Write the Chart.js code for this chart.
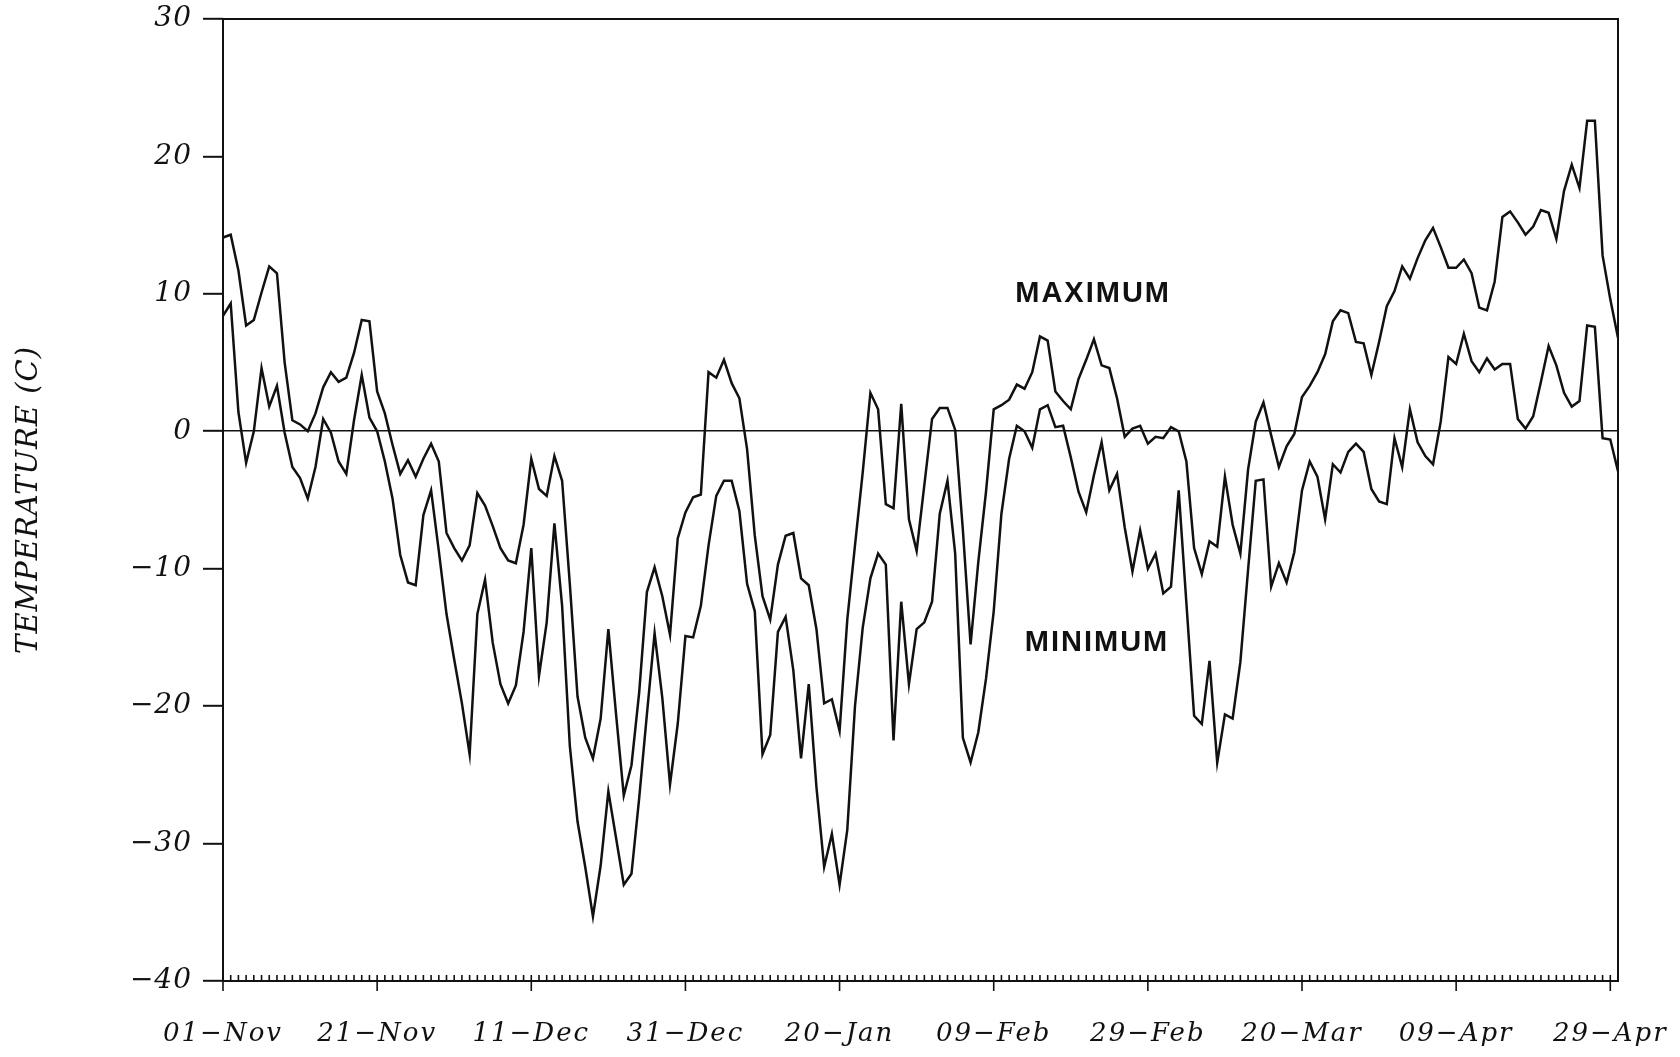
<!DOCTYPE html>
<html>
<head>
<meta charset="utf-8">
<script src="https://cdn.jsdelivr.net/npm/chart.js@4/dist/chart.umd.min.js"></script>
<style>
  html, body { margin: 0; padding: 0; background: #fff; }
  canvas { display: block; }
</style>
</head>
<body>
<canvas id="chart" width="1680" height="1057"></canvas>
<script>
// daily categories, 01-Nov .. 30-Apr (leap year)
const months = [['Nov', 30], ['Dec', 31], ['Jan', 31], ['Feb', 29], ['Mar', 31], ['Apr', 30]];
const dayLabels = [];
months.forEach(([m, n]) => {
    for (let d = 1; d <= n; d++) dayLabels.push(String(d).padStart(2, '0') + '\u2212' + m);
});

const xTickLabels = ['01\u2212Nov', '21\u2212Nov', '11\u2212Dec', '31\u2212Dec', '20\u2212Jan',
    '09\u2212Feb', '29\u2212Feb', '20\u2212Mar', '09\u2212Apr', '29\u2212Apr'];

const maxTemp = [
    14.1, 14.3, 11.7, 7.7, 8.1, 10.1, 12.0, 11.5, 5.0, 0.8,
    0.5, 0.0, 1.3, 3.2, 4.3, 3.6, 3.9, 5.7, 8.1, 8.0,
    2.9, 1.3, -1.0, -3.1, -2.1, -3.3, -2.0, -0.9, -2.2, -7.4,
    -8.5, -9.4, -8.3, -4.5, -5.4, -6.9, -8.5, -9.4, -9.6, -6.8,
    -2.0, -4.2, -4.7, -1.8, -3.6, -11.1, -19.3, -22.3, -23.8, -20.9,
    -14.4, -20.6, -26.5, -24.3, -19.0, -11.7, -9.9, -12.0, -14.8, -7.8,
    -5.9, -4.8, -4.6, 4.3, 3.9, 5.2, 3.5, 2.4, -1.3, -7.6,
    -12.0, -13.7, -9.7, -7.6, -7.4, -10.7, -11.2, -14.4, -19.8, -19.5,
    -21.8, -13.7, -8.3, -3.0, 2.8, 1.6, -5.3, -5.6, 2.0, -6.4,
    -8.7, -3.9, 0.9, 1.7, 1.7, 0.1, -7.2, -15.5, -9.5, -4.4,
    1.6, 1.9, 2.3, 3.4, 3.1, 4.3, 6.9, 6.6, 2.9, 2.2,
    1.6, 3.8, 5.2, 6.7, 4.8, 4.6, 2.4, -0.4, 0.2, 0.4,
    -0.9, -0.4, -0.5, 0.3, 0.0, -2.2, -8.5, -10.4, -8.0, -8.4,
    -3.3, -6.8, -8.9, -2.8, 0.7, 2.1, -0.3, -2.6, -1.1, -0.2,
    2.5, 3.3, 4.3, 5.6, 8.0, 8.8, 8.6, 6.5, 6.4, 4.1,
    6.5, 9.1, 10.2, 12.0, 11.1, 12.6, 13.9, 14.8, 13.4, 11.9,
    11.9, 12.5, 11.5, 9.0, 8.8, 10.9, 15.6, 16.0, 15.2, 14.3,
    14.9, 16.1, 15.9, 14.0, 17.5, 19.4, 17.7, 22.6, 22.6, 12.8,
    9.6, 6.8
];

const minTemp = [
    8.4, 9.3, 1.4, -2.3, 0.0, 4.6, 1.8, 3.3, -0.1, -2.6,
    -3.4, -4.9, -2.6, 0.9, -0.1, -2.2, -3.1, 0.8, 4.1, 1.0,
    0.0, -2.2, -4.9, -9.0, -11.0, -11.2, -6.1, -4.3, -8.7, -13.3,
    -16.6, -19.8, -23.5, -13.3, -10.8, -15.4, -18.4, -19.8, -18.5, -14.6,
    -8.5, -17.8, -13.9, -6.7, -12.7, -22.9, -28.4, -31.7, -35.3, -31.6,
    -26.2, -29.6, -33.0, -32.2, -26.7, -20.6, -14.7, -19.4, -25.7, -21.3,
    -14.9, -15.0, -12.7, -8.3, -4.7, -3.6, -3.6, -5.8, -11.1, -13.1,
    -23.5, -22.1, -14.6, -13.5, -17.4, -23.8, -18.4, -25.9, -31.7, -29.3,
    -33.0, -29.0, -20.0, -14.3, -10.7, -8.9, -9.7, -22.5, -12.4, -18.4,
    -14.4, -13.9, -12.4, -6.0, -3.6, -8.9, -22.3, -24.1, -21.9, -18.0,
    -13.1, -6.0, -2.0, 0.4, 0.0, -1.2, 1.6, 1.9, 0.3, 0.4,
    -1.9, -4.4, -5.9, -3.2, -0.8, -4.3, -3.1, -7.0, -10.2, -7.2,
    -10.0, -8.9, -11.8, -11.3, -4.3, -12.5, -20.7, -21.3, -16.7, -24.1,
    -20.6, -20.9, -16.8, -10.1, -3.6, -3.5, -11.3, -9.6, -11.0, -8.8,
    -4.3, -2.2, -3.3, -6.4, -2.4, -3.0, -1.5, -0.9, -1.5, -4.2,
    -5.1, -5.3, -0.5, -2.6, 1.6, -0.8, -1.8, -2.4, 0.7, 5.4,
    4.9, 7.1, 5.1, 4.3, 5.3, 4.5, 4.9, 4.9, 0.9, 0.2,
    1.1, 3.6, 6.2, 4.8, 2.8, 1.8, 2.2, 7.7, 7.6, -0.5,
    -0.6, -2.9
];

const serifFont = size => ({ family: '"DejaVu Serif", serif', style: 'italic', size: size });

// y labels/title draw before the datasets, x labels (ticks.z 1) after them,
// so each gets its own letter spacing
const decor = {
    id: 'decor',
    beforeDraw(chart) {
        chart.ctx.letterSpacing = '1px';
    },
    afterDatasetsDraw(chart) {
        chart.ctx.letterSpacing = '2px';
    },
    afterDraw(chart) {
        const { ctx, chartArea: a, scales: { x, y } } = chart;
        ctx.save();
        ctx.strokeStyle = '#111';
        ctx.lineWidth = 2;
        ctx.strokeRect(a.left, a.top, a.right - a.left, a.bottom - a.top);

        ctx.lineWidth = 1.6;
        for (let i = 0; i < dayLabels.length; i++) {
            const px = x.getPixelForValue(i);
            ctx.beginPath();
            if (i % 20 === 0) {
                ctx.moveTo(px, a.bottom - 6);
                ctx.lineTo(px, a.bottom + 10);
            } else {
                ctx.moveTo(px, a.bottom);
                ctx.lineTo(px, a.bottom - 6);
            }
            ctx.stroke();
        }

        ctx.letterSpacing = '2px';
        ctx.fillStyle = '#111';
        ctx.font = 'bold 29px "Liberation Sans", Arial, sans-serif';
        ctx.textAlign = 'center';
        ctx.textBaseline = 'middle';
        ctx.fillText('MAXIMUM', x.getPixelForValue(112.9), y.getPixelForValue(10.0));
        ctx.fillText('MINIMUM', x.getPixelForValue(113.4), y.getPixelForValue(-15.4));
        ctx.restore();
        ctx.letterSpacing = '0px';
    }
};

new Chart(document.getElementById('chart'), {
    type: 'line',
    data: {
        labels: dayLabels,
        datasets: [
            { label: 'Maximum', data: maxTemp, borderColor: '#111', borderWidth: 2.5, pointRadius: 0, tension: 0 },
            { label: 'Minimum', data: minTemp, borderColor: '#111', borderWidth: 2.5, pointRadius: 0, tension: 0 }
        ]
    },
    options: {
        responsive: false,
        animation: false,
        devicePixelRatio: 1,
        layout: { padding: { top: 19, right: 62, bottom: 0, left: 0 } },
        plugins: { legend: { display: false }, tooltip: { enabled: false } },
        scales: {
            x: {
                type: 'category',
                offset: false,
                afterFit: s => { s.height = 76; s.paddingLeft = 0; s.paddingRight = 0; },
                grid: { display: false, drawTicks: false },
                border: { display: false },
                ticks: {
                    z: 1,
                    autoSkip: false,
                    maxRotation: 0,
                    minRotation: 0,
                    padding: 38,
                    color: '#111',
                    font: serifFont(26),
                    callback: (v, i) => (i % 20 === 0 ? xTickLabels[i / 20] : '')
                }
            },
            y: {
                min: -40,
                max: 30,
                afterFit: s => { s.width = 223; s.paddingTop = 0; s.paddingBottom = 0; },
                border: { display: false },
                grid: {
                    color: c => (c.tick && c.tick.value === 0 ? '#111' : 'rgba(0,0,0,0)'),
                    lineWidth: 1.6,
                    tickColor: '#111',
                    tickWidth: 2,
                    tickLength: 20
                },
                ticks: {
                    stepSize: 10,
                    padding: 11,
                    color: '#111',
                    font: serifFont(28),
                    callback: v => (v < 0 ? '\u2212' + Math.abs(v) : String(v))
                },
                title: {
                    display: true,
                    text: 'TEMPERATURE (C)',
                    color: '#111',
                    font: serifFont(29),
                    padding: { top: 12, bottom: 0 }
                }
            }
        }
    },
    plugins: [decor]
});
</script>
</body>
</html>
